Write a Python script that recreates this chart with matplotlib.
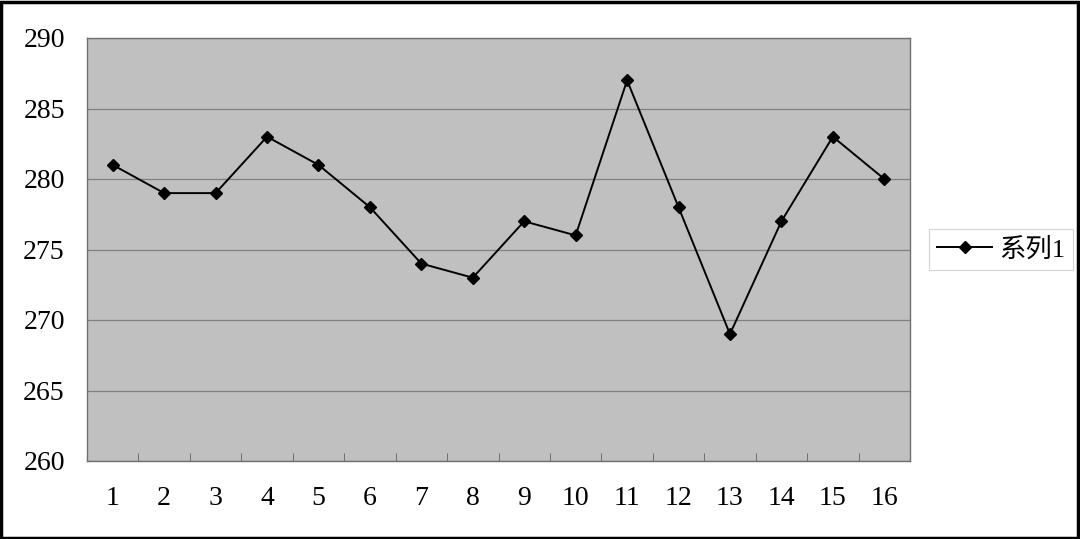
import matplotlib
matplotlib.use("Agg")
import matplotlib.pyplot as plt
from matplotlib.patches import Rectangle

# data
categories = list(range(1, 17))
series_1 = [281, 279, 279, 283, 281, 278, 274, 273, 277, 276, 287, 278, 269, 277, 283, 280]
series_name = "系列1"

plt.rcParams['font.family'] = ['Liberation Serif', 'Noto Sans CJK SC', 'DejaVu Sans']

fig = plt.figure(figsize=(10.8, 5.39), dpi=100)
ax = fig.add_axes([87 / 1080, 1 - 461 / 539, (910 - 87) / 1080, (461 - 38) / 539])

ax.set_facecolor("#C0C0C0")
ax.plot(categories, series_1, color="black", lw=1.4, marker="D", ms=6.5, label=series_name)

ax.set_xlim(0.5, 16.5)
ax.set_ylim(260, 290)
ax.set_yticks(range(260, 291, 5))
ax.yaxis.grid(True, color="#808080", lw=0.9)
ax.set_axisbelow(True)

# category axis: labels at centres, tick marks between categories
ax.set_xticks(categories)
ax.set_xticklabels([str(c) for c in categories])
ax.set_xticks([c + 0.5 for c in categories[:-1]], minor=True)
ax.tick_params(axis="x", which="major", length=0, pad=18, labelsize=20)
ax.tick_params(axis="x", which="minor", direction="in", length=6, color="#606060")
ax.tick_params(axis="y", length=0, pad=16, labelsize=20)

for s in ax.spines.values():
    s.set_color("#707070")
    s.set_linewidth(1)

leg = ax.legend(loc="center left", bbox_to_anchor=(1.023, 0.5), borderaxespad=0,
                frameon=True, fancybox=False, edgecolor="#C8C8C8", fontsize=19,
                handlelength=2.1, handletextpad=0.25, borderpad=0.3)
leg.get_frame().set_linewidth(0.8)

fig.patches.append(Rectangle((0.001, 0.002), 0.997, 0.995, transform=fig.transFigure,
                             fill=False, edgecolor="black", lw=2.5))

fig.savefig("out.png", dpi=100, facecolor="white")
